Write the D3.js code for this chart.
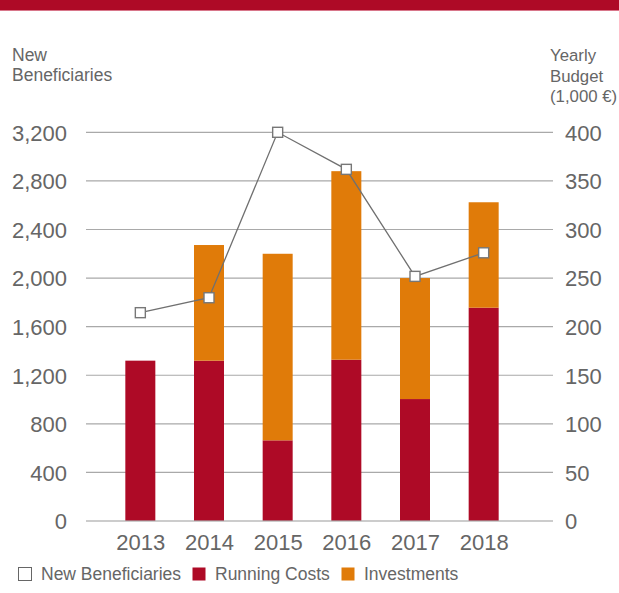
<!DOCTYPE html>
<html>
<head>
<meta charset="utf-8">
<script src="https://cdn.jsdelivr.net/npm/d3@7"></script>
<style>
  html, body { margin: 0; padding: 0; background: #fff; }
  svg { display: block; }
  text { font-family: "Liberation Sans", Arial, sans-serif; fill: #666; }
</style>
</head>
<body>
<svg id="chart" width="619" height="593"></svg>
<script>
// ---- data ----
const years = ["2013", "2014", "2015", "2016", "2017", "2018"];
const runningCosts = [165, 165, 83, 166, 125.5, 219.5];      // 1,000 €
const investments = [0, 119, 192, 194, 124.5, 108.5];        // 1,000 €
const newBeneficiaries = [1715, 1838, 3200, 2895, 2014, 2208];
const leftTicks = [0, 400, 800, 1200, 1600, 2000, 2400, 2800, 3200];
const rightTicks = [0, 50, 100, 150, 200, 250, 300, 350, 400];
const legendLabels = ["New Beneficiaries", "Running Costs", "Investments"];

const colRunning = "#ae0a26";
const colInvest = "#e07b09";

const svg = d3.select("#chart");

// top band
svg.append("rect").attr("x", 0).attr("y", 0).attr("width", 619).attr("height", 10).attr("fill", colRunning);
svg.append("rect").attr("x", 0).attr("y", 10).attr("width", 619).attr("height", 1).attr("fill", "#d8768a");

const gridX0 = 86, gridX1 = 553;
const yL = d3.scaleLinear().domain([0, 3200]).range([521, 132.3]);
const yR = d3.scaleLinear().domain([0, 400]).range([521, 132.3]);
const x = d3.scalePoint().domain(years).range([106, 518]).padding(0.5);
const barW = 30;

// gridlines
svg.append("g").selectAll("line").data(leftTicks.filter(d => d > 0)).join("line")
  .attr("x1", gridX0).attr("x2", gridX1)
  .attr("y1", d => yL(d)).attr("y2", d => yL(d))
  .attr("stroke", "#a9a9a9").attr("stroke-width", 1.2);

// left axis
const axL = svg.append("g").attr("transform", "translate(67,0)")
  .call(d3.axisLeft(yL).tickValues(leftTicks).tickSize(0).tickPadding(0).tickFormat(d3.format(",")));
axL.select(".domain").remove();
axL.selectAll("text").attr("font-size", 22).attr("fill", "#666")
  .attr("font-family", "Liberation Sans, Arial, sans-serif").attr("dy", "0.36em");

// right axis
const axR = svg.append("g").attr("transform", "translate(565,0)")
  .call(d3.axisRight(yR).tickValues(rightTicks).tickSize(0).tickPadding(0));
axR.select(".domain").remove();
axR.selectAll("text").attr("font-size", 22).attr("fill", "#666")
  .attr("font-family", "Liberation Sans, Arial, sans-serif").attr("dy", "0.36em");

// stacked bars
const rows = years.map((y, i) => ({ year: y, run: runningCosts[i], inv: investments[i] }));
const stack = d3.stack().keys(["run", "inv"])(rows);
const colors = { run: colRunning, inv: colInvest };
svg.append("g").selectAll("g").data(stack).join("g")
  .attr("fill", s => colors[s.key])
  .selectAll("rect").data(s => s).join("rect")
  .attr("x", d => x(d.data.year) - barW / 2)
  .attr("width", barW)
  .attr("y", d => yR(d[1]))
  .attr("height", d => yR(d[0]) - yR(d[1]));

// baseline
svg.append("line").attr("x1", gridX0).attr("x2", gridX1)
  .attr("y1", yL(0)).attr("y2", yL(0))
  .attr("stroke", "rgba(170,170,170,0.6)").attr("stroke-width", 2);

// x axis labels
const axB = svg.append("g").attr("transform", "translate(0,550)")
  .call(d3.axisBottom(x).tickSize(0).tickPadding(0));
axB.select(".domain").remove();
axB.selectAll("text").attr("font-size", 22).attr("fill", "#666")
  .attr("font-family", "Liberation Sans, Arial, sans-serif").attr("dy", 0).attr("y", 0);

// line
const pts = years.map((y, i) => ({ year: y, v: newBeneficiaries[i] }));
svg.append("path").datum(pts)
  .attr("fill", "none").attr("stroke", "#707070").attr("stroke-width", 1.3)
  .attr("d", d3.line().x(d => x(d.year)).y(d => yL(d.v)));
const mk = 10;
svg.append("g").selectAll("rect").data(pts).join("rect")
  .attr("x", d => x(d.year) - mk / 2).attr("y", d => yL(d.v) - mk / 2)
  .attr("width", mk).attr("height", mk)
  .attr("fill", "#fff").attr("stroke", "#777").attr("stroke-width", 1.4);

// axis titles
const tl = svg.append("text").attr("font-size", 17.5);
tl.append("tspan").attr("x", 12).attr("y", 60.5).text("New");
tl.append("tspan").attr("x", 12).attr("y", 81).text("Beneficiaries");
const tr = svg.append("text").attr("font-size", 16.8);
tr.append("tspan").attr("x", 550).attr("y", 61).text("Yearly");
tr.append("tspan").attr("x", 550).attr("y", 81.5).text("Budget");
tr.append("tspan").attr("x", 550).attr("y", 102).text("(1,000 €)");

// legend
const legX = [18, 192, 341];
const lg = svg.append("g");
legendLabels.forEach((lab, i) => {
  const sq = lg.append("rect").attr("x", legX[i] + 0.5).attr("y", 567.5).attr("width", 13).attr("height", 13);
  if (i === 0) sq.attr("fill", "#fff").attr("stroke", "#666").attr("stroke-width", 1);
  else sq.attr("fill", i === 1 ? colRunning : colInvest);
  lg.append("text").attr("x", legX[i] + 23).attr("y", 580).attr("font-size", 17.5).text(lab);
});
</script>
</body>
</html>
